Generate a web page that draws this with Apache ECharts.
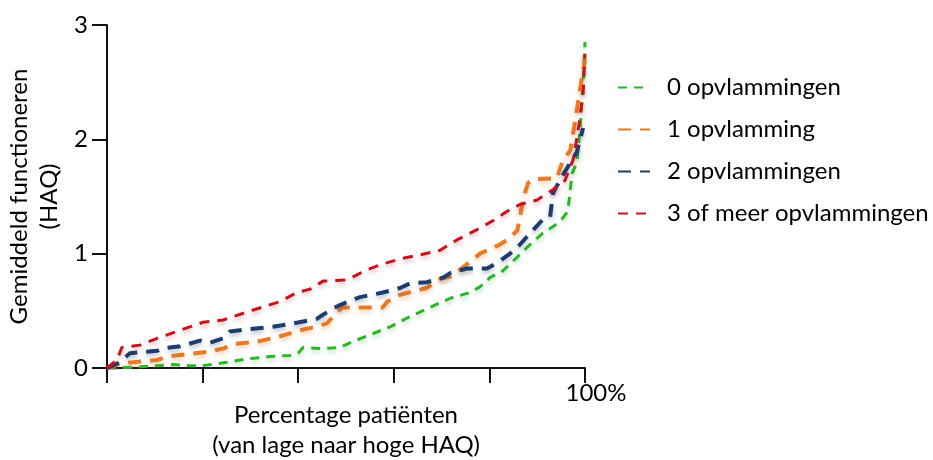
<!DOCTYPE html>
<html><head><meta charset="utf-8">
<script src="https://cdn.jsdelivr.net/npm/echarts@6/dist/echarts.min.js"></script>
<style>html,body{margin:0;padding:0;background:#fff}#c{width:933px;height:460px}</style>
</head><body><div id="c"></div>
<script>
const seriesNames = ['0 opvlammingen','1 opvlamming','2 opvlammingen','3 of meer opvlammingen'];
const xTicks = [0,20,40,60,80,100];
const yTicks = [0,1,2,3];
const green = [[0,0],[6.9,0.01],[13.8,0.03],[17.4,0.02],[19.9,0.02],[25.1,0.05],[29.3,0.08],[34.1,0.1],[38.3,0.11],[40,0.13],[41,0.18],[45.2,0.17],[48.7,0.18],[50.8,0.22],[55,0.29],[59.2,0.36],[63.4,0.45],[67.6,0.53],[71.8,0.61],[75.9,0.66],[78,0.71],[80.1,0.79],[82.8,0.85],[85.8,0.97],[88.5,1.08],[91.2,1.18],[94.8,1.28],[96.4,1.37],[96.9,1.55],[97.3,1.7],[98.3,1.8],[99,2.1],[99.6,2.5],[100,2.85]];
const orange = [[0,0],[2.7,0.04],[5.4,0.05],[10.5,0.07],[12.6,0.1],[16.7,0.12],[20.9,0.14],[24.3,0.17],[26.4,0.21],[31.4,0.23],[35.6,0.27],[40.4,0.33],[44.6,0.37],[46,0.39],[48.7,0.51],[49.4,0.53],[52.9,0.53],[57.7,0.53],[58.6,0.58],[61.3,0.64],[66.9,0.7],[69.7,0.78],[71.8,0.8],[74.5,0.88],[78,1.0],[82.2,1.08],[83.7,1.12],[85.8,1.2],[86.4,1.32],[87,1.47],[88.1,1.62],[89.1,1.65],[94.1,1.66],[95.4,1.82],[96.9,1.9],[97.5,2.05],[98.3,2.26],[99.4,2.55],[100,2.7]];
const blue = [[0,0],[2.7,0.05],[4.8,0.13],[10.5,0.15],[11.5,0.17],[15.3,0.19],[19.5,0.24],[21.5,0.22],[24.3,0.26],[25.7,0.32],[29.9,0.34],[34.7,0.36],[38.9,0.39],[43.9,0.43],[44.6,0.45],[47.3,0.52],[48.7,0.55],[52.9,0.62],[57.7,0.66],[61.3,0.7],[63.4,0.74],[66.9,0.75],[70.3,0.79],[71.8,0.83],[75.3,0.87],[79.5,0.87],[81.6,0.92],[84.3,1.0],[86.4,1.08],[87.9,1.15],[91.2,1.3],[92.7,1.32],[93.3,1.53],[95.4,1.69],[98.3,1.89],[99.6,2.1]];
const red = [[0,0],[2.1,0.07],[3.1,0.18],[6.9,0.2],[10.5,0.26],[15.3,0.33],[20.1,0.4],[24.3,0.42],[29.3,0.49],[36.2,0.58],[39.7,0.66],[42.5,0.69],[45.2,0.76],[50.2,0.77],[54.4,0.86],[57.7,0.91],[61.9,0.96],[65.5,0.99],[69.7,1.03],[73.2,1.12],[77.4,1.21],[80.8,1.29],[83.7,1.37],[86.4,1.43],[90,1.47],[93.3,1.56],[95.8,1.64],[97.5,1.82],[98.5,2.06],[99.6,2.4],[100,2.75]];

const FONT = 'Lato';
const colors = ['#2db52a','#ea7a24','#1f3c6e','#c8121c'];
const shadows = ['rgba(45,181,42,0.35)','rgba(234,122,36,0.35)','rgba(31,60,110,0.3)','rgba(200,18,28,0.3)'];
const widths = [3,4,4,3];
const dashes = [[9,7],[13,9],[13,9],[10,8]];
const datas = [green, orange, blue, red];

const chart = echarts.init(document.getElementById('c'), null, {renderer:'canvas'});
chart.setOption({
  animation:false,
  textStyle:{fontFamily:FONT},
  grid:{left:107,right:348,top:25,bottom:92,containLabel:false,outerBoundsMode:'none'},
  legend:{
    orient:'vertical', left:612, top:70, itemWidth:32, itemHeight:14, itemGap:17,
    itemStyle:{opacity:0},
    textStyle:{fontFamily:FONT,fontSize:24,color:'#000',lineHeight:25,padding:[0,0,0,12]},
    data:seriesNames
  },
  xAxis:{type:'value',min:0,max:100,interval:20,
    axisLine:{show:true,lineStyle:{color:'#111',width:2}},
    axisTick:{show:true,length:15,lineStyle:{color:'#111',width:2}},
    splitLine:{show:false},
    axisLabel:{show:true,showMaxLabel:true,fontFamily:FONT,fontSize:24,color:'#000',margin:13,padding:[0,0,0,22],
      formatter:v=> v===100 ? '100%' : ''},
    name:'Percentage patiënten\n(van lage naar hoge HAQ)',nameLocation:'middle',nameGap:32,nameMoveOverlap:false,
    nameTextStyle:{fontFamily:FONT,fontSize:24,color:'#000',lineHeight:30,verticalAlign:'top'}
  },
  yAxis:{type:'value',min:0,max:3,interval:1,
    axisLine:{show:true,lineStyle:{color:'#111',width:2}},
    axisTick:{show:true,length:15,lineStyle:{color:'#111',width:2}},
    splitLine:{show:false},
    axisLabel:{fontFamily:FONT,fontSize:24,color:'#000',margin:19},
    name:'Gemiddeld functioneren\n(HAQ)',nameLocation:'middle',nameGap:43,nameRotate:90,nameMoveOverlap:false,
    nameTextStyle:{fontFamily:FONT,fontSize:24,color:'#000',lineHeight:30}
  },
  series: datas.map((d,i)=>({
    name:seriesNames[i], type:'line', data:d, symbol:'none', smooth:false,
    lineStyle:{color:colors[i],width:widths[i],type:dashes[i],shadowColor:shadows[i],shadowBlur:4,shadowOffsetY:3},
    itemStyle:{color:colors[i]}
  }))
});
</script></body></html>
